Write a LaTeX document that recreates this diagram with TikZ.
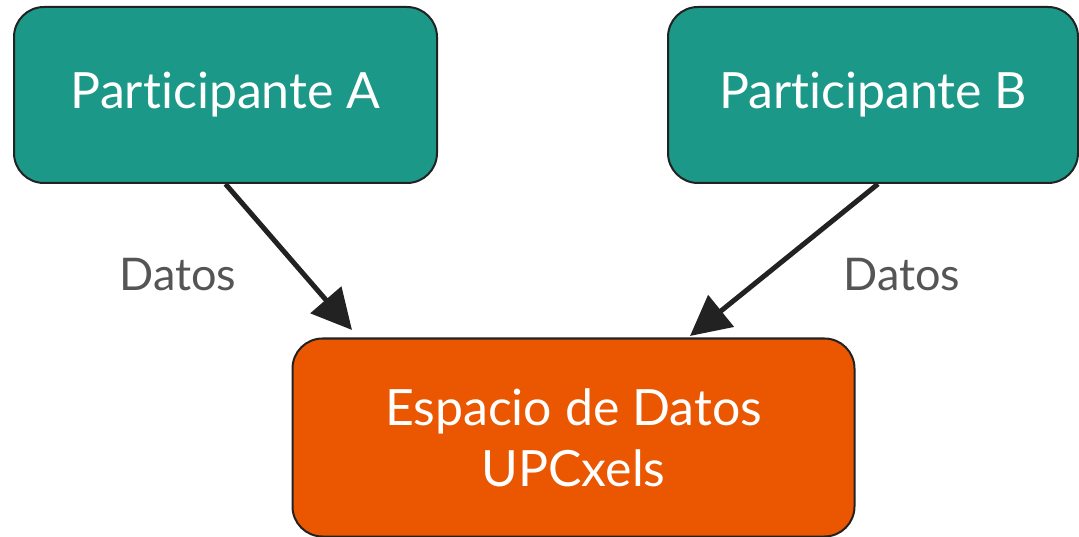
\documentclass[tikz,border=0pt]{standalone}
\usepackage{fontspec}
\setmainfont[Ligatures=NoCommon]{Lato}
\usetikzlibrary{arrows.meta,calc}
\definecolor{teal1}{HTML}{1B9887}
\definecolor{orange1}{HTML}{EB5600}
\definecolor{edge1}{HTML}{222222}
\definecolor{label1}{HTML}{555555}
\tikzset{
  box/.style={draw=edge1, line width=2pt, rounded corners=30pt, text=white,
    font=\fontsize{50}{61}\selectfont, align=center, inner sep=0pt},
  conn/.style={draw=edge1, line width=5pt, -{Triangle[length=40pt,width=40pt]}},
  lbl/.style={text=label1, font=\fontsize{45}{50}\selectfont, inner sep=0pt}
}
\begin{document}
\begin{tikzpicture}[x=1pt,y=-1pt]
\useasboundingbox (0,0) rectangle (1079,537);
\node[box, fill=teal1, minimum width=423pt, minimum height=176pt] (A) at (225.5,95) {Participante A};
\node[box, fill=teal1, minimum width=410pt, minimum height=176pt] (B) at (873,95) {Participante B};
\node[box, fill=orange1, minimum width=562pt, minimum height=198pt] (C) at (573.5,437.5) {Espacio de Datos\\UPCxels};
\coordinate (ta) at (352,330);
\coordinate (tb) at (690,336);
\draw[conn] ($(A.south)+(0,0)$) -- (ta);
\draw[conn] ($(B.south)+(5,0)$) -- (tb);
\node[lbl] (la) at (178,275) {Datos};
\node[lbl] (lb) at (902,275) {Datos};
\end{tikzpicture}
\end{document}
